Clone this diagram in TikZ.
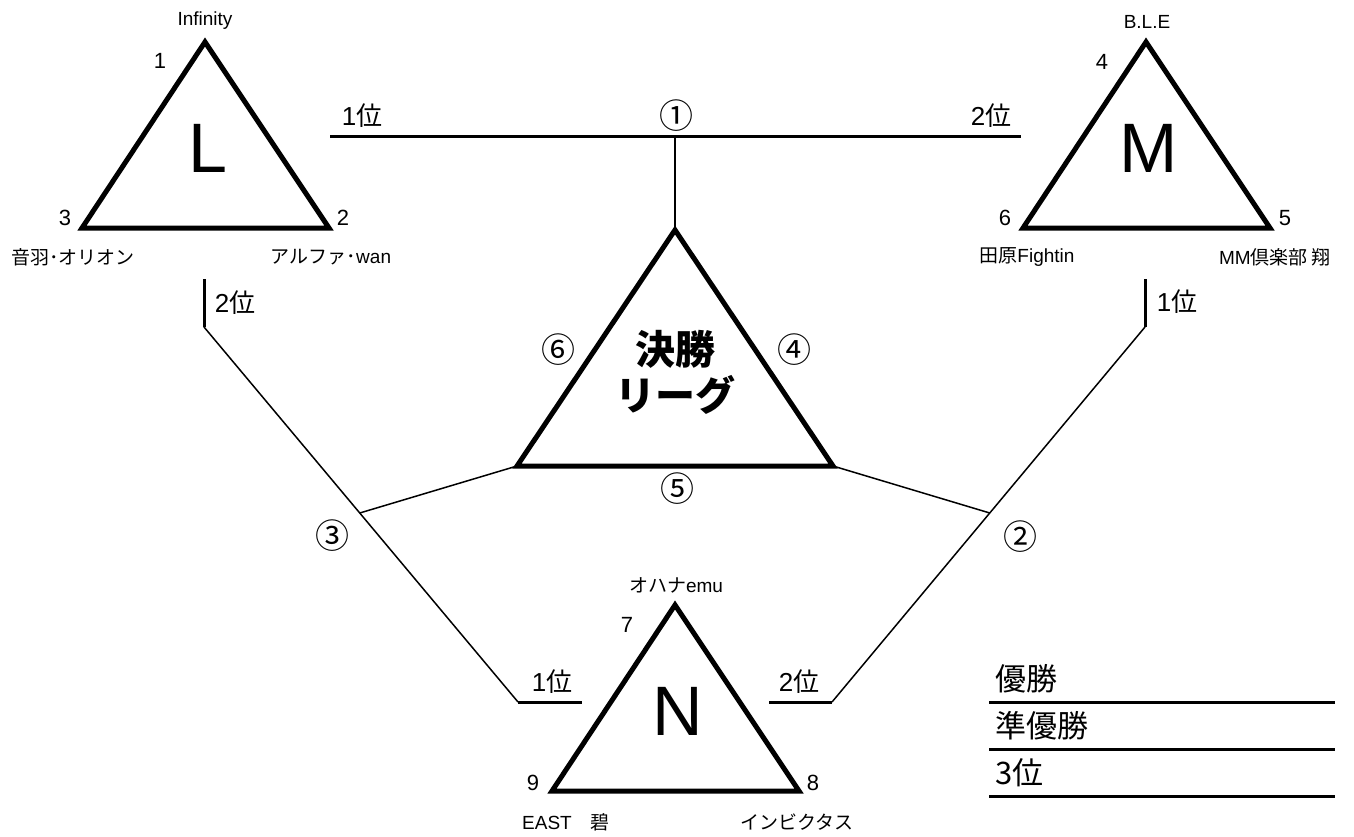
\documentclass[tikz,border=0pt]{standalone}
\usepackage{fontspec}
\setmainfont{Liberation Sans}
\newfontfamily\jp{Noto Sans CJK JP}
\usetikzlibrary{calc}

\begin{document}
\begin{tikzpicture}[x=1pt, y=-1pt,
    pool/.style={line width=5pt},
    bar/.style={line width=3pt},
    link/.style={line width=1.5pt},
    num/.style={font=\fontsize{22}{22}\selectfont},
    team/.style={font=\fontsize{19}{19}\selectfont},
    rank/.style={font=\fontsize{26}{26}\selectfont},
    game/.style={font=\jp\fontsize{34}{34}\selectfont},
    letter/.style={font=\fontsize{70}{70}\selectfont},
    final/.style={font=\jp\bfseries\fontsize{40}{46}\selectfont, align=center},
    place/.style={font=\jp\fontsize{31}{31}\selectfont}]
    \useasboundingbox (0,0) rectangle (1354,837);
    % pools L, M, N
    \foreach \p/\x/\y in {L/205/42, M/1146/42, N/675/605} {
        \coordinate (\p1) at (\x, \y);
        \coordinate (\p2) at (\x+124, \y+186);
        \coordinate (\p3) at (\x-123, \y+186);
        \draw[pool] (\p1) -- (\p2) -- (\p3) -- cycle;
        \node[letter] (\p) at (\x+3, \y+106) {\p};
    }
    \foreach \n/\x/\y in {1/160/61, 2/343/218, 3/65/218, 4/1102/62, 5/1285/218,
                          6/1005/218, 7/627/625, 8/813/783, 9/533/783}
        \node[num] (n\n) at (\x, \y) {\n};
    % teams
    \node[team] (t1) at (205,21) {Infinity};
    \node[team] (t2) at (331,257) {{\jp アルファ･}wan};
    \node[team] (t3) at (73,257) {\jp 音羽･オリオン};
    \node[team] (t4) at (1147,22) {B.L.E};
    \node[team] (t5) at (1275,257) {MM{\jp 倶楽部 翔}};
    \node[team] (t6) at (1027,257) {{\jp 田原}Fightin};
    \node[team] (t7) at (676,585) {{\jp オハナ}emu};
    \node[team] (t8) at (797,822) {\jp インビクタス};
    \node[team] (t9) at (566,822) {EAST{\jp 　碧}};
    % final league
    \coordinate (F1) at (675,230);
    \coordinate (F2) at (833,466);
    \coordinate (F3) at (517,466);
    \draw[pool] (F1) -- (F2) -- (F3) -- cycle;
    \node[final] (final) at (675,372) {決勝\\リーグ};
    % L - M
    \coordinate (topL) at (330,137);
    \coordinate (topR) at (1021,137);
    \coordinate (top) at (675,137);
    \draw[bar] (topL) -- (topR);
    \draw[line width=2pt] (top) -- (F1);
    % L - N
    \coordinate (aL) at (204,279);
    \coordinate (bL) at (204,327);
    \coordinate (cL) at (518,702);
    \coordinate (dL) at (582,702);
    \draw[bar] (aL) -- (bL);
    \draw[link] (bL) -- (cL);
    \draw[bar] (cL) -- (dL);
    \coordinate (jL) at ($(bL)!0.496!(cL)$);
    \draw[link] (jL) -- (F3);
    % M - N
    \coordinate (aR) at (1145,279);
    \coordinate (bR) at (1145,327);
    \coordinate (cR) at (832,702);
    \coordinate (dR) at (769,702);
    \draw[bar] (aR) -- (bR);
    \draw[link] (bR) -- (cR);
    \draw[bar] (cR) -- (dR);
    \coordinate (jR) at ($(bR)!0.496!(cR)$);
    \draw[link] (jR) -- (F2);
    % ranks
    \node[rank] (r1) at (362,116) {1{\jp 位}};
    \node[rank] (r2) at (991,116) {2{\jp 位}};
    \node[rank] (r3) at (235,303) {2{\jp 位}};
    \node[rank] (r4) at (1177,302) {1{\jp 位}};
    \node[rank] (r5) at (552,682) {1{\jp 位}};
    \node[rank] (r6) at (799,682) {2{\jp 位}};
    % games
    \node[game] (g1) at (676,116) {①};
    \node[game] (g2) at (1020,537) {②};
    \node[game] (g3) at (332,536) {③};
    \node[game] (g4) at (794,350) {④};
    \node[game] (g5) at (677,489) {⑤};
    \node[game] (g6) at (558,350) {⑥};
    % results
    \foreach \r/\lab/\y in {1/優勝/702, 2/準優勝/749, 3/3位/796} {
        \draw[bar] (989,\y) coordinate (s\r) -- (1335,\y);
        \node[place, anchor=base west] (p\r) at (992,\y-12) {\lab};
    }
\end{tikzpicture}
\end{document}
